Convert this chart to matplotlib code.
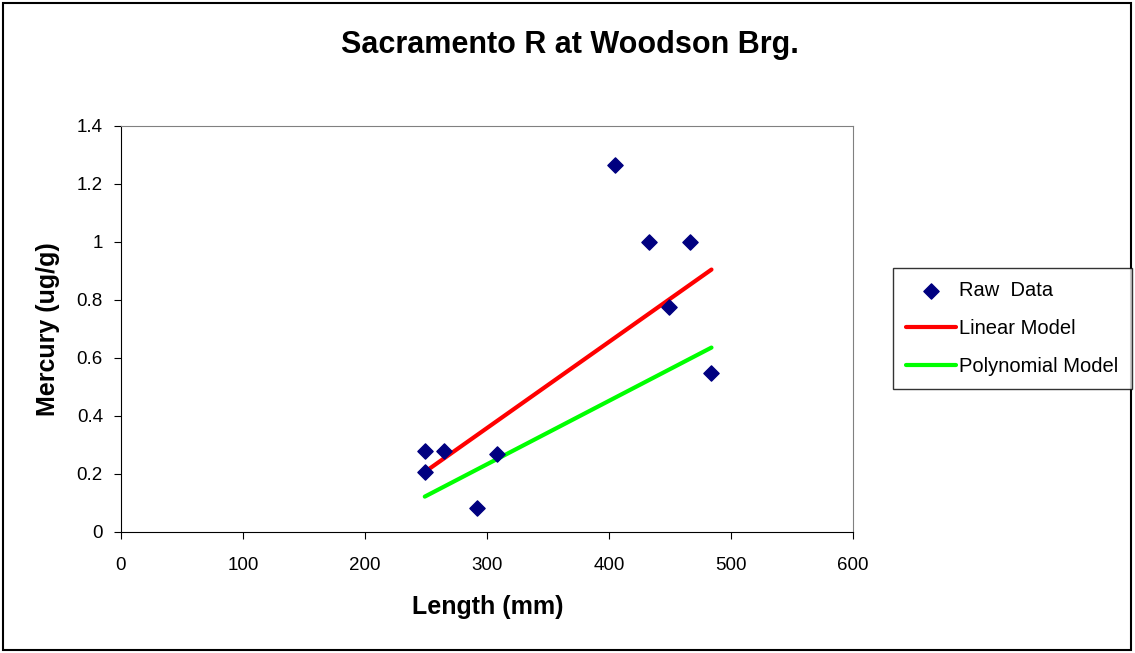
import matplotlib
matplotlib.use('Agg')
import matplotlib.pyplot as plt
from matplotlib.patches import Rectangle

plt.rcParams['font.family'] = ['Liberation Sans', 'DejaVu Sans']

# raw measurements
length_mm = [249, 249, 265, 292, 308, 405, 433, 449, 466, 484]
mercury = [0.279, 0.208, 0.279, 0.083, 0.269, 1.265, 1.0, 0.775, 1.0, 0.547]

# fitted models, evaluated at the ends of the data range
model_x = [249, 484]
linear_y = [0.207, 0.905]
poly_y = [0.122, 0.636]

x_ticks = [0, 100, 200, 300, 400, 500, 600]
y_ticks = [0, 0.2, 0.4, 0.6, 0.8, 1, 1.2, 1.4]
y_tick_labels = ['0', '0.2', '0.4', '0.6', '0.8', '1', '1.2', '1.4']

fig = plt.figure(figsize=(11.35, 6.53), dpi=100)
ax = fig.add_axes([121 / 1135, 1 - 532 / 653, 732 / 1135, 406 / 653])

ax.plot(model_x, linear_y, color='#ff0000', lw=3, solid_capstyle='round', label='Linear Model', zorder=2)
ax.plot(model_x, poly_y, color='#00ff00', lw=3, solid_capstyle='round', label='Polynomial Model', zorder=2)
ax.scatter(length_mm, mercury, marker='D', s=60, color='#000080', label='Raw  Data', zorder=3)

ax.set_xlim(0, 600)
ax.set_ylim(0, 1.4)
ax.set_xticks(x_ticks)
ax.set_yticks(y_ticks)
ax.set_yticklabels(y_tick_labels)
ax.tick_params(direction='out', length=5, labelsize=13.5, color='black')
ax.tick_params(axis='x', pad=13)
ax.tick_params(axis='y', pad=8)
for s in ['top', 'right']:
    ax.spines[s].set_color('#808080')
for s in ['left', 'bottom']:
    ax.spines[s].set_color('black')

fig.text(570 / 1135, 1 - 45 / 653, 'Sacramento R at Woodson Brg.', ha='center', va='center',
         fontsize=22, fontweight='bold')
fig.text(488 / 1135, 1 - 607 / 653, 'Length (mm)', ha='center', va='center', fontsize=18, fontweight='bold')
fig.text(48 / 1135, 1 - 329 / 653, 'Mercury (ug/g)', ha='center', va='center', rotation=90,
         fontsize=18, fontweight='bold')

handles, labels = ax.get_legend_handles_labels()
order = [2, 0, 1]
leg = fig.legend([handles[i] for i in order], [labels[i] for i in order],
                 loc='upper left', bbox_to_anchor=(893 / 1135, 1 - 268 / 653),
                 fontsize=14.5, frameon=True, fancybox=False, edgecolor='black',
                 handlelength=2.5, handletextpad=0.15, labelspacing=0.95, borderpad=0.65,
                 borderaxespad=0)
leg.get_frame().set_linewidth(1)

fig.patches.append(Rectangle((3 / 1135, 3 / 653), 1128 / 1135, 647 / 653, transform=fig.transFigure,
                             fill=False, edgecolor='black', lw=1.5))

fig.savefig('out.png', dpi=100)
